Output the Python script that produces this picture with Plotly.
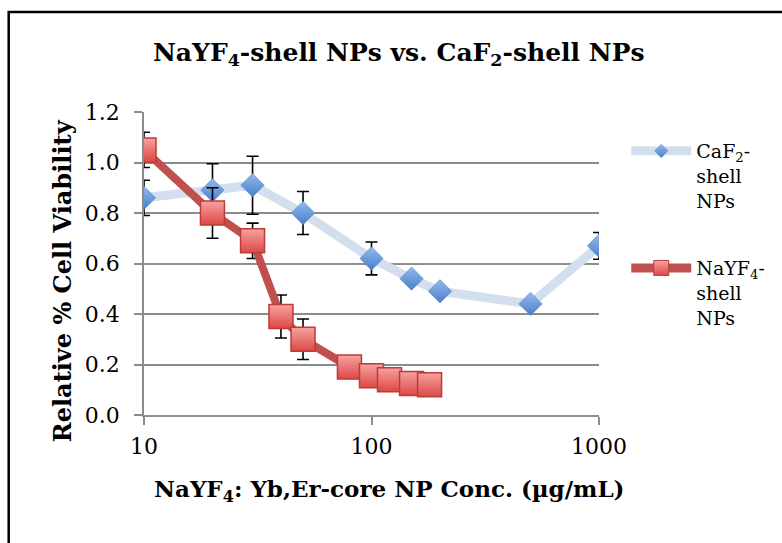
import plotly.graph_objects as go

# ---- data ----
caf2_conc = [10, 20, 30, 50, 100, 150, 200, 500, 1000]
caf2_viab = [0.86, 0.89, 0.91, 0.80, 0.62, 0.54, 0.49, 0.44, 0.67]
caf2_err = [0.07, 0.105, 0.115, 0.085, 0.065, 0.0, 0.0, 0.0, 0.053]

nayf4_conc = [10, 20, 30, 40, 50, 80, 100, 120, 150, 180]
nayf4_viab = [1.05, 0.80, 0.69, 0.39, 0.30, 0.19, 0.155, 0.14, 0.125, 0.12]
nayf4_err = [0.07, 0.10, 0.07, 0.085, 0.08, 0.0, 0.0, 0.0, 0.0, 0.0]

y_ticks = [0.0, 0.2, 0.4, 0.6, 0.8, 1.0, 1.2]
y_tick_text = ["0.0", "0.2", "0.4", "0.6", "0.8", "1.0", "1.2"]
x_ticks = [10, 100, 1000]
x_tick_text = ["10", "100", "1000"]

title_text = "NaYF<sub>4</sub>-shell NPs vs. CaF<sub>2</sub>-shell NPs"
x_title = "NaYF<sub>4</sub>: Yb,Er-core NP Conc. (µg/mL)"
y_title = "Relative % Cell Viability"
caf2_name = "CaF<sub>2</sub>-<br>shell<br>NPs"
nayf4_name = "NaYF<sub>4</sub>-<br>shell<br>NPs"

FONT = "DejaVu Serif"
BLUE_LINE = "#D3DFEE"
BLUE_TOP = "#94B9EC"
BLUE_BOT = "#4A7FCC"
RED_LINE = "#C0504D"
RED_TOP = "#F6A3A1"
RED_BOT = "#DC4845"

fig = go.Figure()

fig.add_trace(go.Scatter(
    x=caf2_conc, y=caf2_viab, mode="lines+markers", showlegend=False,
    line=dict(color=BLUE_LINE, width=9),
    marker=dict(symbol="diamond", size=18, color=BLUE_TOP,
                gradient=dict(type="vertical", color=BLUE_BOT),
                line=dict(color="#4F81BD", width=0.5)),
    error_y=dict(type="data", array=caf2_err, color="black", thickness=1.6, width=6),
))
fig.add_trace(go.Scatter(
    x=nayf4_conc, y=nayf4_viab, mode="lines+markers", showlegend=False,
    line=dict(color=RED_LINE, width=8),
    marker=dict(symbol="square", size=24, color=RED_TOP,
                gradient=dict(type="vertical", color=RED_BOT),
                line=dict(color="#BE3B38", width=1.5)),
    error_y=dict(type="data", array=nayf4_err, color="black", thickness=1.6, width=6),
))

# legend entries (no data)
fig.add_trace(go.Scatter(
    x=[None], y=[None], mode="lines+markers", name=caf2_name, legendgroup="a",
    line=dict(color=BLUE_LINE, width=9),
    marker=dict(symbol="diamond", size=11, color=BLUE_TOP,
                gradient=dict(type="vertical", color=BLUE_BOT)),
))
fig.add_trace(go.Scatter(
    x=[None], y=[None], mode="lines+markers", name=nayf4_name, legendgroup="b",
    line=dict(color=RED_LINE, width=9),
    marker=dict(symbol="square", size=15, color=RED_TOP,
                gradient=dict(type="vertical", color=RED_BOT),
                line=dict(color="#BE3B38", width=1)),
))

L, R, T, B = 143.5, 602.5, 112, 415
W, H = 782, 543

def px(x):
    return (x - L) / (R - L)

def py(y):
    return (B - y) / (B - T)

fig.update_layout(
    width=W, height=H,
    margin=dict(l=L, r=W - R, t=T, b=H - B, pad=0),
    paper_bgcolor="white", plot_bgcolor="white",
    font=dict(family=FONT, color="black"),
    xaxis=dict(type="log", range=[1, 3], tickvals=x_ticks, ticktext=x_tick_text,
               showgrid=False, showline=True, linecolor="#8C8C8C", linewidth=1.5,
               ticks="outside", ticklen=8, tickcolor="#8C8C8C", tickwidth=1.5,
               tickfont=dict(size=22, family=FONT), ticklabelstandoff=3,
               zeroline=False),
    yaxis=dict(range=[0, 1.2], tickvals=y_ticks, ticktext=y_tick_text,
               showgrid=True, gridcolor="#8C8C8C", gridwidth=1.5,
               showline=True, linecolor="#8C8C8C", linewidth=1.5,
               ticks="outside", ticklen=8, tickcolor="#8C8C8C", tickwidth=1.5,
               tickfont=dict(size=22, family=FONT), ticklabelstandoff=10,
               zeroline=False),
    legend=dict(x=px(630), y=py(132), xanchor="left", yanchor="top",
                font=dict(size=19, family=FONT), valign="top",
                itemwidth=60, tracegroupgap=40, traceorder="grouped",
                bgcolor="rgba(0,0,0,0)"),
    shapes=[dict(type="rect", xref="paper", yref="paper",
                 x0=px(7), x1=px(800), y0=py(560), y1=py(12),
                 line=dict(color="black", width=2.5), layer="above")],
    annotations=[
        dict(text="<b>" + title_text + "</b>", xref="paper", yref="paper",
             x=px(401), y=py(54), xanchor="center", yanchor="middle",
             showarrow=False, font=dict(size=25, family=FONT)),
        dict(text="<b>" + x_title + "</b>", xref="paper", yref="paper",
             x=px(391), y=py(490), xanchor="center", yanchor="middle",
             showarrow=False, font=dict(size=23, family=FONT)),
        dict(text="<b>" + y_title + "</b>", xref="paper", yref="paper",
             x=px(61), y=py(281), xanchor="center", yanchor="middle",
             textangle=-90, showarrow=False, font=dict(size=24, family=FONT)),
    ],
)

fig.write_html("out.html", config={"displayModeBar": False},
               post_script="document.body.style.margin='0';document.body.style.overflow='hidden';")
